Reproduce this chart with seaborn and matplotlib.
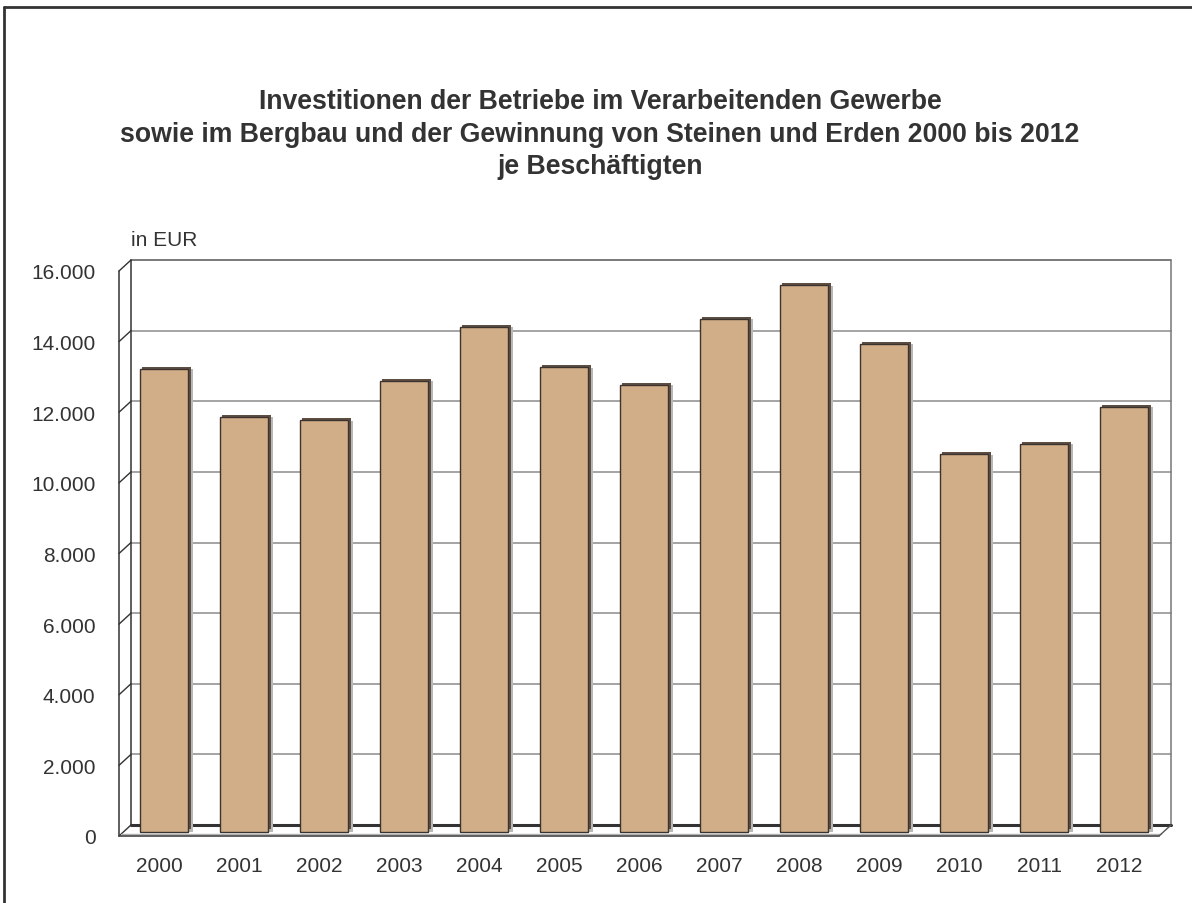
import pandas as pd
import seaborn as sns
import matplotlib.pyplot as plt
import matplotlib.patheffects as pe
from matplotlib.transforms import ScaledTranslation

# Investitionen je Beschaeftigten in EUR
years = ['2000', '2001', '2002', '2003', '2004', '2005', '2006',
         '2007', '2008', '2009', '2010', '2011', '2012']
werte = [13100, 11740, 11640, 12760, 14290, 13150, 12650,
         14520, 15470, 13810, 10680, 10980, 12020]
yticks = [0, 2000, 4000, 6000, 8000, 10000, 12000, 14000, 16000]
ytick_labels = ['0', '2.000', '4.000', '6.000', '8.000',
                '10.000', '12.000', '14.000', '16.000']

title_lines = ['Investitionen der Betriebe im Verarbeitenden Gewerbe',
               'sowie im Bergbau und der Gewinnung von Steinen und Erden 2000 bis 2012',
               'je Beschäftigten']

sns.set_style('white')
plt.rcParams['font.family'] = ['Liberation Sans', 'DejaVu Sans']
txt = '#333333'

W, H = 1192, 904
fig = plt.figure(figsize=(W / 100, H / 100), dpi=100)

# front plane of the pseudo 3d box (pixels)
x0, x1, y0, y1 = 119, 1159, 837, 272
ax = fig.add_axes([x0 / W, 1 - y0 / H, (x1 - x0) / W, (y0 - y1) / H])

df = pd.DataFrame({'Jahr': years, 'EUR': werte})
sns.barplot(data=df, x='Jahr', y='EUR', color='#D2AE88', saturation=1,
            width=0.61, edgecolor='#3b332e', linewidth=1, ax=ax)
ax.set_xlim(-0.5, 12.5)
ax.set_ylim(0, 16000)

# bars sit in the middle of the depth
shift = ScaledTranslation(5 / 100, 4.5 / 100, fig.dpi_scale_trans)
for p in ax.patches:
    p.set_transform(ax.transData + shift)
    p.set_clip_on(False)
    p.set_zorder(5)
    p.set_path_effects([
        pe.SimplePatchShadow(offset=(3, -0.3), shadow_rgbFace='#b8b8b8', alpha=1),
        pe.SimplePatchShadow(offset=(1.6, 1.6), shadow_rgbFace='#5e4f44', alpha=1),
        pe.Normal()])

# depth offset for the back wall in data units
sx = 13 / (x1 - x0)
sy = 16000 / (y0 - y1)
bdx, bdy = 12 * sx, 11 * sy
xl, xr = -0.5, 12.5

for v in yticks[1:-1]:
    ax.plot([xl + bdx, xr + bdx], [v + bdy, v + bdy], color='#8c8c8c', lw=1.1,
            zorder=1, clip_on=False)
ax.plot([xl + bdx, xr + bdx], [16000 + bdy] * 2, color='#555555', lw=1.1, zorder=1, clip_on=False)
for v in yticks:
    ax.plot([xl, xl + bdx], [v, v + bdy], color='#333333', lw=1, zorder=2, clip_on=False)
ax.plot([xl, xl], [0, 16000], color='#333333', lw=1.1, zorder=2, clip_on=False)
ax.plot([xl + bdx] * 2, [bdy, 16000 + bdy], color='#333333', lw=1.1, zorder=2, clip_on=False)
ax.plot([xr + bdx] * 2, [bdy, 16000 + bdy], color='#777777', lw=1.1, zorder=1, clip_on=False)
# floor
ax.plot([xl + bdx, xr + bdx], [bdy, bdy], color='#333333', lw=2.2, zorder=2, clip_on=False)
ax.plot([xl + 2 * sx, xr + 2 * sx], [2 * sy, 2 * sy], color='#b0b0b0', lw=1, zorder=2, clip_on=False)
ax.plot([xl, xr], [0, 0], color='#444444', lw=1.2, zorder=2, clip_on=False)
ax.plot([xr, xr + bdx], [0, bdy], color='#555555', lw=1, zorder=2, clip_on=False)

for s in ax.spines.values():
    s.set_visible(False)
ax.set_xlabel('')
ax.set_ylabel('')
ax.set_yticks(yticks, ytick_labels)
ax.tick_params(axis='both', length=0, labelsize=15, labelcolor=txt)
ax.tick_params(axis='y', pad=17)
ax.tick_params(axis='x', pad=14.5)

fig.text(131 / W, 1 - 241 / H, 'in EUR', ha='left', va='center', fontsize=15, color=txt)
for yy, line in zip([102, 135, 167], title_lines):
    fig.text(600 / W, 1 - yy / H, line, ha='center', va='center',
             fontsize=19.2, fontweight='bold', color=txt)

# outer frame (only left and top visible)
fig.add_artist(plt.Line2D([4 / W, 4 / W], [0, 1 - 8 / H], transform=fig.transFigure,
                          color='#333333', lw=2))
fig.add_artist(plt.Line2D([4 / W, 1], [1 - 8 / H, 1 - 8 / H], transform=fig.transFigure,
                          color='#333333', lw=2))

fig.savefig('out.png', dpi=100)
